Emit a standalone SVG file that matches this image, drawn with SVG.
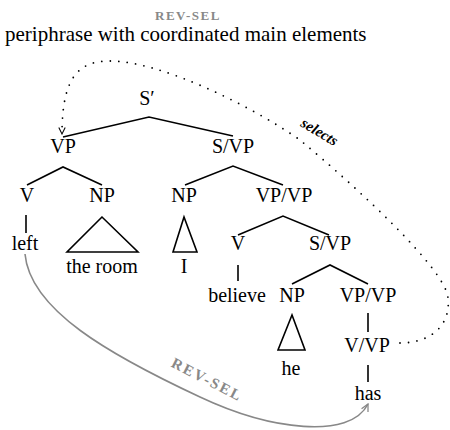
<svg xmlns="http://www.w3.org/2000/svg" width="450" height="430" viewBox="0 0 450 430">
<style>
.n{font-size:20px;text-anchor:middle}
.t{font-size:21px}
.g{font-weight:bold;fill:#888;font-size:13px;letter-spacing:1.5px;text-anchor:middle}
.g2{font-weight:bold;fill:#888;font-size:15px;letter-spacing:2px;text-anchor:middle}
.e{stroke:#000;stroke-width:1.6;fill:none}
.sel{font-weight:bold;font-style:italic;font-size:15px;text-anchor:middle}
</style>
<defs>
<marker id="ab" viewBox="0 0 10 10" refX="9" refY="5" markerWidth="8" markerHeight="8" markerUnits="userSpaceOnUse" orient="auto">
<path d="M1 1 L9 5 L1 9" fill="none" stroke="#000" stroke-width="1.3"/>
</marker>
<marker id="ag" viewBox="0 0 10 10" refX="9" refY="5" markerWidth="9" markerHeight="9" markerUnits="userSpaceOnUse" orient="auto">
<path d="M1 1 L9 5 L1 9" fill="none" stroke="#888" stroke-width="1.4"/>
</marker>
</defs>
<g font-family="Liberation Serif, DejaVu Serif, serif" fill="#000">
<g id="title">
<text class="g" x="188" y="20">REV-SEL</text>
<text class="t" x="5" y="41">periphrase with coordinated main elements</text>
</g>
<g id="edges">
<path class="e" d="M63 137 L149 117 L233 136"/>
<path class="e" d="M27 185 L63 167 L102 185"/>
<path class="e" d="M185 185 L233 166 L283 185"/>
<path class="e" d="M26 215 L26 233"/>
<path class="e" d="M102 217 L67 252 L138 252 Z"/>
<path class="e" d="M184 217 L173 252 L197 252 Z"/>
<path class="e" d="M238 235 L283 216 L329 235"/>
<path class="e" d="M238 265 L238 281"/>
<path class="e" d="M292 284 L330 265 L368 284"/>
<path class="e" d="M292 315 L278 350 L305 350 Z"/>
<path class="e" d="M368 313 L368 332"/>
<path class="e" d="M368 365 L368 382"/>
</g>
<g id="selects">
<path d="M400 343 C430 343 451 326 448 298 C446 270 360 190 300 140 C250 105 160 61 110 61 C80 61 62 75 62 134" fill="none" stroke="#000" stroke-width="1.8" stroke-linecap="round" stroke-dasharray="0 8.5" marker-end="url(#ab)"/>
<text class="sel" transform="translate(317,136) rotate(31)">selects</text>
</g>
<g id="revsel">
<path d="M25 254 C30 310 110 355 200 397 C270 430 350 440 368 404" fill="none" stroke="#888" stroke-width="1.6" marker-end="url(#ag)"/>
<text class="g2" transform="translate(205,384) rotate(27)">REV-SEL</text>
</g>
<g id="n-Sp"><text class="n" x="147" y="105">S′</text></g>
<g id="n-VP"><text class="n" x="63" y="153">VP</text></g>
<g id="n-SVP1"><text class="n" x="233" y="153">S/VP</text></g>
<g id="n-V1"><text class="n" x="27" y="202">V</text></g>
<g id="n-NP1"><text class="n" x="102" y="202">NP</text></g>
<g id="n-NP2"><text class="n" x="184" y="202">NP</text></g>
<g id="n-VPVP1"><text class="n" x="284" y="202">VP/VP</text></g>
<g id="n-left"><text class="n" x="25" y="250">left</text></g>
<g id="n-room"><text class="n" x="102" y="273">the room</text></g>
<g id="n-I"><text class="n" x="184" y="273">I</text></g>
<g id="n-V2"><text class="n" x="238" y="250">V</text></g>
<g id="n-SVP2"><text class="n" x="330" y="250">S/VP</text></g>
<g id="n-believe"><text class="n" x="237" y="302">believe</text></g>
<g id="n-NP3"><text class="n" x="292" y="302">NP</text></g>
<g id="n-VPVP2"><text class="n" x="368" y="302">VP/VP</text></g>
<g id="n-he"><text class="n" x="291" y="375">he</text></g>
<g id="n-VVP"><text class="n" x="367" y="352">V/VP</text></g>
<g id="n-has"><text class="n" x="368" y="400">has</text></g>
</g>
</svg>
